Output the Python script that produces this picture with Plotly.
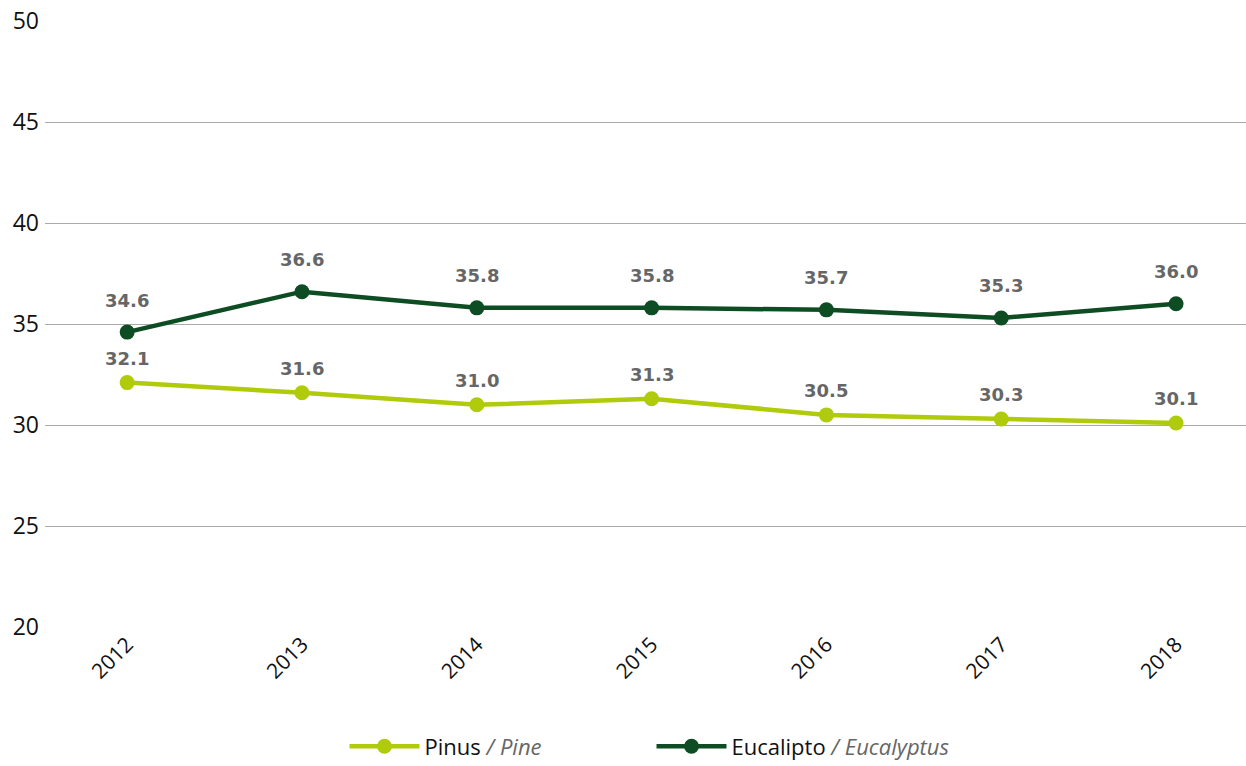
import plotly.graph_objects as go

years = ["2012", "2013", "2014", "2015", "2016", "2017", "2018"]
pinus = [32.1, 31.6, 31.0, 31.3, 30.5, 30.3, 30.1]
eucalipto = [34.6, 36.6, 35.8, 35.8, 35.7, 35.3, 36.0]
y_ticks = [20, 25, 30, 35, 40, 45, 50]

PINE_COLOR = "#b0ca0c"
EUC_COLOR = "#0e4d23"
LABEL_COLOR = "#666666"
FONT = "Open Sans, sans-serif"
LABEL_FONT = "DejaVu Sans, sans-serif"

fig = go.Figure()

fig.add_trace(go.Scatter(
    x=years, y=pinus, mode="lines+markers",
    name="Pinus <i><span style='color:#666666'>/ Pine</span></i>",
    line=dict(color=PINE_COLOR, width=4.5),
    marker=dict(color=PINE_COLOR, size=15),
))
fig.add_trace(go.Scatter(
    x=years, y=eucalipto, mode="lines+markers",
    name="Eucalipto <i><span style='color:#666666'>/ Eucalyptus</span></i>",
    line=dict(color=EUC_COLOR, width=4.5),
    marker=dict(color=EUC_COLOR, size=15),
))

# value labels above each point (x given as category index)
for series, shift in ((pinus, 24), (eucalipto, 32)):
    for i, v in enumerate(series):
        fig.add_annotation(
            x=i, y=v, xref="x", yref="y", text=f"<b>{v:.1f}</b>", showarrow=False,
            yshift=shift, font=dict(family=LABEL_FONT, size=18, color=LABEL_COLOR),
        )

fig.update_layout(
    width=1246, height=766,
    margin=dict(l=45, r=0, t=21, b=139, autoexpand=False),
    plot_bgcolor="white", paper_bgcolor="white",
    font=dict(family=FONT, size=22, color="#111111"),
    showlegend=True,
    legend=dict(
        orientation="h", x=0.505, xanchor="center", y=-0.197, yanchor="middle",
        xref="paper", yref="paper", itemwidth=70,
        font=dict(family=FONT, size=22, color="#111111"),
        entrywidth=222,
    ),
    xaxis=dict(
        type="category", range=[-0.47, 6.4], showgrid=False, zeroline=False,
        showline=False, tickangle=-45, ticks="", automargin=False,
        tickfont=dict(family=FONT, size=21, color="#111111"),
    ),
    yaxis=dict(
        range=[20, 50], tickvals=y_ticks, showgrid=True, gridcolor="#aaaaaa",
        gridwidth=1, zeroline=False, showline=False, ticks="", automargin=False,
        ticklabelstandoff=5,
        tickfont=dict(family=FONT, size=23, color="#111111"),
    ),
)

fig.write_html("out.html")
